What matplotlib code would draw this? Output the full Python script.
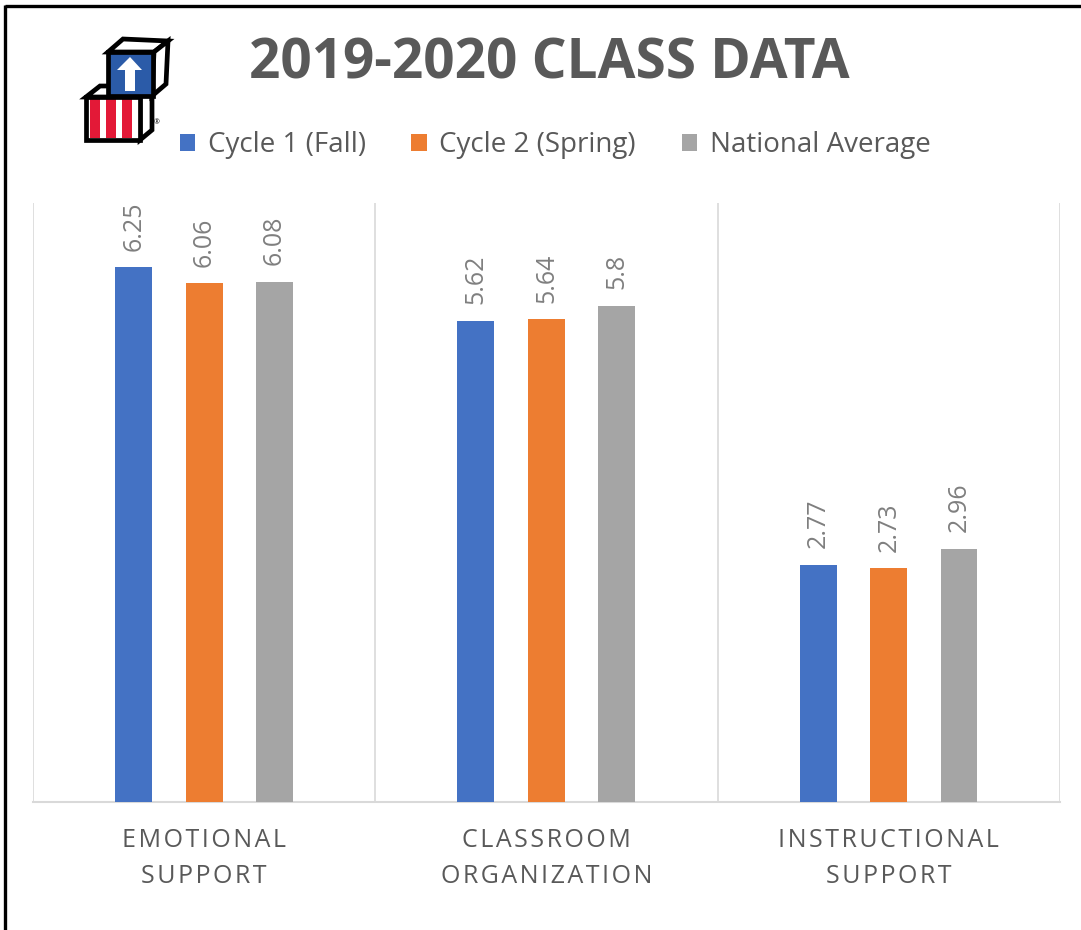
import matplotlib
matplotlib.use("Agg")
import matplotlib.pyplot as plt
from matplotlib.patches import Polygon, Rectangle
import numpy as np

plt.rcParams['font.family'] = ['Open Sans', 'DejaVu Sans']

# ---- data ----
title = "2019-2020 CLASS DATA"
categories = ["EMOTIONAL\nSUPPORT", "CLASSROOM\nORGANIZATION", "INSTRUCTIONAL\nSUPPORT"]
series_names = ["Cycle 1 (Fall)", "Cycle 2 (Spring)", "National Average"]
cycle1 = [6.25, 5.62, 2.77]
cycle2 = [6.06, 5.64, 2.73]
national = [6.08, 5.80, 2.96]
label_texts = [["6.25", "5.62", "2.77"], ["6.06", "5.64", "2.73"], ["6.08", "5.8", "2.96"]]

colors = ["#4472C4", "#ED7D31", "#A5A5A5"]
text_dark = "#595959"
label_grey = "#7F7F7F"
grid_grey = "#D9D9D9"

W, H = 1081, 930
fig = plt.figure(figsize=(W / 100, H / 100), dpi=100)
fig.patch.set_facecolor("white")

ax = fig.add_axes([33 / W, 1 - 802 / H, (1060 - 33) / W, (802 - 203) / H])
x = np.arange(len(categories))
offsets = [-0.206, 0.0, 0.205]
bw = 0.108
for j, vals in enumerate([cycle1, cycle2, national]):
    bars = ax.bar(x + offsets[j], vals, width=bw, color=colors[j], label=series_names[j], zorder=3)
    for k, b in enumerate(bars):
        ax.annotate(label_texts[j][k], (b.get_x() + b.get_width() / 2, b.get_height()),
                    xytext=(0, 12), textcoords="offset points", rotation=90,
                    ha="center", va="bottom", fontsize=18, color=label_grey)

ax.set_xlim(-0.5, 2.5)
ax.set_ylim(0, 7)
for gx in [-0.5, 0.5, 1.5, 2.5]:
    ax.axvline(gx, color=grid_grey, lw=1.2, zorder=1)
for s in ["left", "right", "top"]:
    ax.spines[s].set_visible(False)
ax.spines["bottom"].set_color(grid_grey)
ax.spines["bottom"].set_linewidth(1.5)
ax.set_yticks([])
ax.set_xticks(x)
spaced = ["\n".join("\u200a".join(list(line)) for line in c.split("\n")) for c in categories]
ax.set_xticklabels(spaced, fontsize=18, color=text_dark, linespacing=1.57)
ax.tick_params(axis="x", length=0, pad=19)
ax.set_facecolor("white")

fig.text(549 / W, 1 - 64 / H, title, ha="center", va="center", fontsize=39.5,
         fontweight="bold", color=text_dark)

fig.legend(loc="center", bbox_to_anchor=(555 / W, 1 - 145 / H), ncol=3, frameon=False,
           fontsize=20, labelcolor=text_dark, handlelength=0.55, handleheight=0.55,
           handletextpad=0.45, columnspacing=1.65)

# ---- overlay: border + logo (pixel coordinates) ----
ov = fig.add_axes([0, 0, 1, 1], zorder=5)
ov.set_xlim(0, W)
ov.set_ylim(H, 0)
ov.axis("off")
ov.patch.set_alpha(0)
ov.plot([5, 5], [5, H], color="black", lw=2.4, solid_capstyle="butt")
ov.plot([5, W], [6, 6], color="black", lw=2.4, solid_capstyle="butt")

lw = 3.4
# bottom cube
ov.add_patch(Polygon([(86, 97), (100, 86), (152, 86), (140, 97)], closed=True, fc="white", ec="black", lw=lw))
ov.add_patch(Polygon([(140, 97), (152, 86), (152, 130), (140, 140)], closed=True, fc="white", ec="black", lw=lw))
ov.add_patch(Rectangle((86, 97), 54, 43, fc="white", ec="none"))
for x0, x1 in [(90, 100), (106, 116), (122, 132)]:
    ov.add_patch(Rectangle((x0, 99), x1 - x0, 39, fc="#E31937", ec="none"))
ov.add_patch(Rectangle((86, 97), 54, 43, fc="none", ec="black", lw=lw))
# top cube
ov.add_patch(Polygon([(108, 52), (123, 39), (168, 41), (154, 52)], closed=True, fc="white", ec="black", lw=lw))
ov.add_patch(Polygon([(154, 52), (168, 41), (166, 84), (152, 96)], closed=True, fc="white", ec="black", lw=lw))
ov.add_patch(Rectangle((108, 52), 45, 44, fc="#2B5BA8", ec="black", lw=lw))
ov.add_patch(Polygon([(130, 57), (142, 70), (135, 70), (135, 91), (125, 91), (125, 70), (117, 70)],
                     closed=True, fc="white", ec="none"))
ov.text(157, 123, "\u00ae", fontsize=5, color="black", ha="center", va="center")

fig.savefig("out.png", dpi=100, facecolor="white")
